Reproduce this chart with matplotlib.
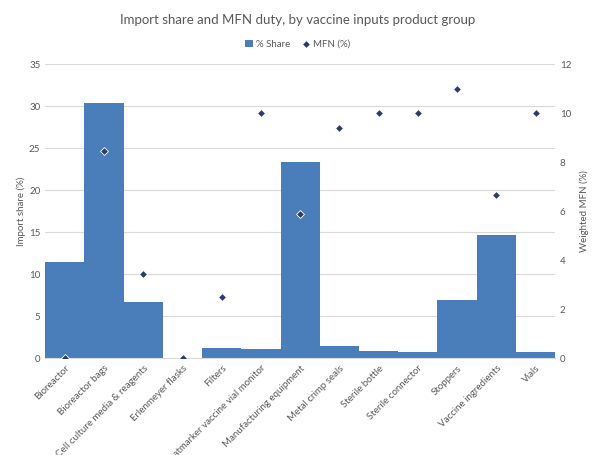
import matplotlib
matplotlib.use("Agg")
import matplotlib.pyplot as plt
import numpy as np

plt.rcParams['font.family'] = ['Lato', 'DejaVu Sans']

categories = ["Bioreactor", "Bioreactor bags", "Cell culture media & reagents",
              "Erlenmeyer flasks", "Filters", "Heatmarker vaccine vial monitor",
              "Manufacturing equipment", "Metal crimp seals", "Sterile bottle",
              "Sterile connector", "Stoppers", "Vaccine ingredients", "Vials"]
share = [11.5, 30.4, 6.7, 0.0, 1.2, 1.1, 23.3, 1.4, 0.9, 0.7, 6.9, 14.6, 0.7]
mfn = [0.0, 8.45, 3.45, 0.0, 2.5, 10.0, 5.9, 9.4, 10.0, 10.0, 11.0, 6.65, 10.0]

bar_color = "#4A7EBB"
txt = "#595959"

fig = plt.figure(figsize=(5.95, 4.55), dpi=100)
ax = fig.add_axes([0.076, 0.213, 0.857, 0.646])
ax2 = ax.twinx()

x = np.arange(len(categories))
ax.bar(x, share, width=1.0, color=bar_color, label="% Share", zorder=2)
ax.set_xlim(-0.5, len(categories) - 0.5)
ax.set_ylim(0, 35)
ax.set_yticks(range(0, 36, 5))
ax.grid(axis='y', color="#D9D9D9", linewidth=0.8, zorder=0)
ax.set_axisbelow(True)

ax2.scatter(x, mfn, marker='D', s=16, color="#2E3A6B", edgecolor="white",
            linewidth=0.6, zorder=5, label="MFN (%)")
ax2.set_ylim(0, 12)
ax2.set_yticks(range(0, 13, 2))

for a in (ax, ax2):
    for s in a.spines.values():
        s.set_visible(False)
    a.tick_params(length=0, colors=txt, labelsize=7)
ax.spines['bottom'].set_visible(True)
ax.spines['bottom'].set_color("#D9D9D9")

ax.set_xticks(x)
ax.set_xticklabels(categories, rotation=45, ha='right', rotation_mode='anchor',
                   fontsize=7, color=txt)
ax.tick_params(axis='x', pad=4)

ax.set_ylabel("Import share (%)", fontsize=7, color=txt, labelpad=2)
ax2.set_ylabel("Weighted MFN (%)", fontsize=7, color=txt, labelpad=6)

fig.text(0.5, 0.955, "Import share and MFN duty, by vaccine inputs product group",
         ha='center', va='center', fontsize=9.5, color=txt)

h1, l1 = ax.get_legend_handles_labels()
h2, l2 = ax2.get_legend_handles_labels()
fig.legend(h1 + h2, l1 + l2, loc='center', bbox_to_anchor=(0.5, 0.903), ncol=2,
           frameon=False, fontsize=7, labelcolor=txt, handlelength=0.8,
           handleheight=0.8, handletextpad=0.3, columnspacing=1.2)

fig.savefig("out.png", dpi=100)
